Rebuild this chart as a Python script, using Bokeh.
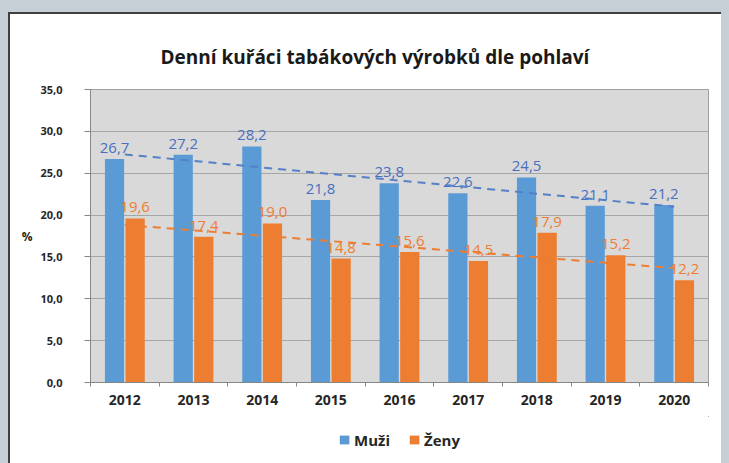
import numpy as np
from bokeh.plotting import figure
from bokeh.layouts import column
from bokeh.models import (ColumnDataSource, FixedTicker, Legend, LegendItem)
from bokeh.core.properties import value
from bokeh.embed import file_html
from bokeh.resources import INLINE

# ---- data ----
years = ["2012", "2013", "2014", "2015", "2016", "2017", "2018", "2019", "2020"]
muzi = [26.7, 27.2, 28.2, 21.8, 23.8, 22.6, 24.5, 21.1, 21.2]
zeny = [19.6, 17.4, 19.0, 14.8, 15.6, 14.5, 17.9, 15.2, 12.2]
y_ticks = [0, 5, 10, 15, 20, 25, 30, 35]
title_text = "Denní kuřáci tabákových výrobků dle pohlaví"
series_names = ["Muži", "Ženy"]

BLUE = "#5b9bd5"
ORANGE = "#ed7d31"
BLUE_TXT = "#4a6fbe"
BLUE_TREND = "#5580c8"
FONT = "Open Sans"

idx = np.arange(len(years))
centers = idx + 0.5
bw = 0.28
off = 0.15

def fmt(v):
    return f"{v:.1f}".replace(".", ",")

src_m = ColumnDataSource(dict(x=centers - off, top=muzi, lab=[fmt(v) for v in muzi]))
src_z = ColumnDataSource(dict(x=centers + off, top=zeny, lab=[fmt(v) for v in zeny]))

# linear trend lines (least squares, as the spreadsheet trendline)
km, qm = np.polyfit(idx, muzi, 1)
kz, qz = np.polyfit(idx, zeny, 1)
tx = [centers[0], centers[-1]]
tm = [qm + km * idx[0], qm + km * idx[-1]]
tz = [qz + kz * idx[0], qz + kz * idx[-1]]

W, H_MAIN, H_LEG = 711, 402, 47

p = figure(width=W, height=H_MAIN, x_range=(0, len(years)), y_range=(0, 35),
           output_backend="svg", toolbar_location=None,
           min_border_left=80, min_border_right=13, min_border_top=75, min_border_bottom=34)

p.background_fill_color = "#d9d9d9"
p.border_fill_color = "white"
p.outline_line_color = "#a0a0a0"
p.outline_line_width = 1

# title
p.title.text = title_text
p.title.align = "left"
p.title.offset = 70
p.title.text_font = FONT
p.title.text_font_size = "19px"
p.title.text_font_style = "bold"
p.title.text_color = "#1a1a1a"
p.title.standoff = 40

# grid
p.xgrid.grid_line_color = None
p.ygrid.grid_line_color = "#a6a6a6"
p.ygrid.grid_line_width = 1
p.ygrid.ticker = FixedTicker(ticks=y_ticks)

# y axis
ya = p.yaxis[0]
ya.ticker = FixedTicker(ticks=y_ticks)
ya.major_label_overrides = {t: fmt(t) for t in y_ticks}
ya.major_label_text_font = FONT
ya.major_label_text_font_size = "11px"
ya.major_label_text_font_style = "bold"
ya.major_label_text_color = "#262626"
ya.major_tick_out = 6
ya.major_tick_in = 0
ya.major_tick_line_color = "#868686"
ya.minor_tick_line_color = None
ya.axis_line_color = "#868686"
ya.major_label_standoff = 22
ya.axis_label = "%"
ya.axis_label_orientation = "horizontal"
ya.axis_label_text_font = FONT
ya.axis_label_text_font_size = "12px"
ya.axis_label_text_font_style = "bold"
ya.axis_label_text_color = "#262626"
ya.axis_label_standoff = 5

# x axis
xa = p.xaxis[0]
xa.ticker = FixedTicker(ticks=list(centers), minor_ticks=list(range(0, len(years) + 1)))
xa.major_label_overrides = {float(c): y for c, y in zip(centers, years)}
xa.major_label_text_font = FONT
xa.major_label_text_font_size = "14px"
xa.major_label_text_font_style = "bold"
xa.major_label_text_color = "#262626"
xa.major_tick_line_color = None
xa.major_tick_out = 0
xa.major_tick_in = 0
xa.minor_tick_line_color = "#868686"
xa.minor_tick_out = 4
xa.minor_tick_in = 0
xa.axis_line_color = "#868686"
xa.major_label_standoff = 8

# bars
p.vbar(x="x", top="top", width=bw, source=src_m, fill_color=BLUE, line_color=None)
p.vbar(x="x", top="top", width=bw, source=src_z, fill_color=ORANGE, line_color=None)

# data labels
p.text(x="x", y="top", text="lab", source=src_m, text_align="center", text_baseline="bottom",
       y_offset=-6, text_font=value(FONT), text_font_size="15px", text_color=BLUE_TXT)
p.text(x="x", y="top", text="lab", source=src_z, text_align="center", text_baseline="bottom",
       y_offset=-6, text_font=value(FONT), text_font_size="15px", text_color=ORANGE)

# trend lines
p.line(tx, tm, line_color=BLUE_TREND, line_width=2, line_dash="8 6")
p.line(tx, tz, line_color=ORANGE, line_width=2, line_dash="8 6")

# legend strip (separate small figure under the chart; its ranges keep the
# series' own bars out of view, so only the legend swatches show)
q = figure(width=W, height=H_LEG, x_range=(-20, -10), y_range=(-2, -1),
           output_backend="svg", toolbar_location=None,
           x_axis_location=None, y_axis_location=None,
           min_border_left=66, min_border_right=0, min_border_top=0, min_border_bottom=0)
q.grid.grid_line_color = None
q.outline_line_color = None
q.background_fill_color = "white"
q.border_fill_color = "white"
lm = q.vbar(x="x", top="top", width=bw, source=src_m, fill_color=BLUE, line_color=None)
lz = q.vbar(x="x", top="top", width=bw, source=src_z, fill_color=ORANGE, line_color=None)
legend = Legend(items=[LegendItem(label=series_names[0], renderers=[lm]),
                       LegendItem(label=series_names[1], renderers=[lz])],
                orientation="horizontal", location="center")
legend.label_text_font = FONT
legend.label_text_font_size = "15px"
legend.label_text_font_style = "bold"
legend.label_text_color = "#262626"
legend.glyph_width = 12
legend.glyph_height = 11
legend.label_standoff = 4
legend.spacing = 18
legend.border_line_color = None
legend.background_fill_color = None
legend.background_fill_alpha = 0
legend.margin = 0
legend.padding = 4
q.add_layout(legend, "center")

layout = column(p, q, spacing=0)

html = file_html(layout, INLINE)
css = ("<style>html,body{margin:0;padding:0;background:#c6ced6;overflow:hidden;}"
       ".box{position:absolute;left:8px;top:12px;width:711px;height:449px;background:#ffffff;"
       "border-left:2px solid #3f3f3f;border-top:2px solid #3f3f3f;overflow:hidden;}</style>")
i = html.rfind("</head>")
html = html[:i] + css + html[i:]
i = html.rfind("<body")
j = html.find(">", i) + 1
html = html[:j] + '<div class="box">' + html[j:]
k = html.rfind("</body>")
html = html[:k] + "</div>" + html[k:]
open("out.html", "w").write(html)
